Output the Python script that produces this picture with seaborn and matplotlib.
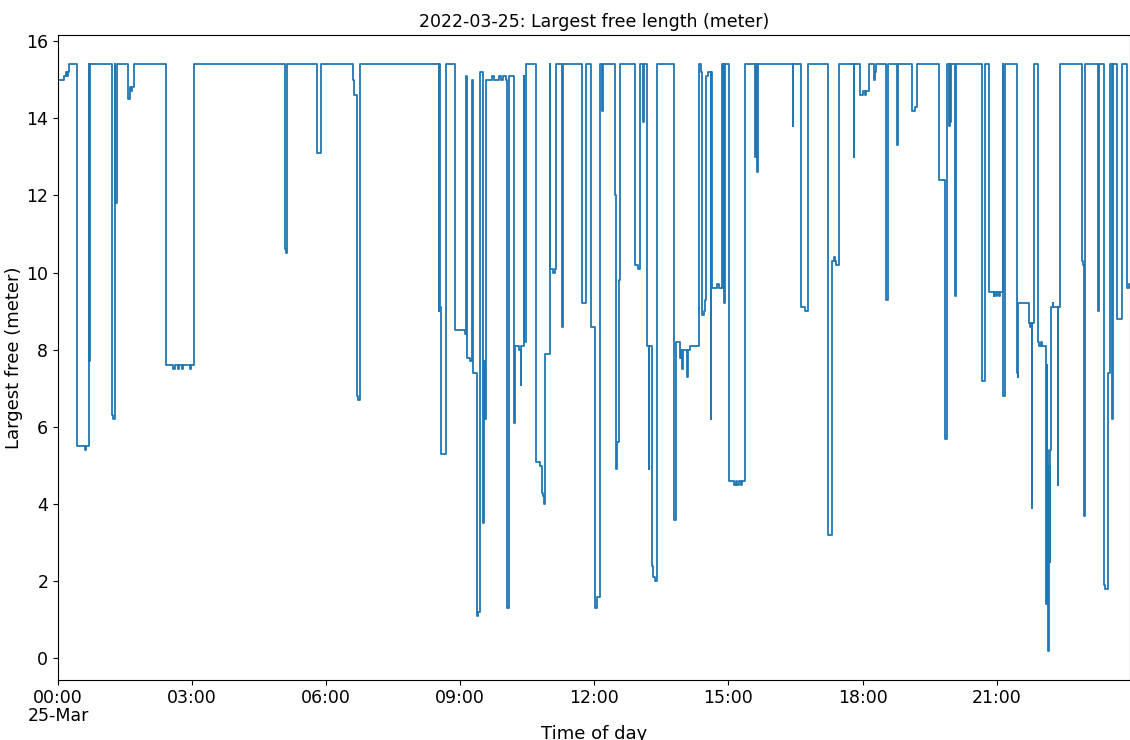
import matplotlib
matplotlib.use("Agg")
import matplotlib.pyplot as plt
import matplotlib.dates as mdates
import seaborn as sns
import pandas as pd
import numpy as np

# change points: minute of day -> largest free length (m)
night_min = [0, 8, 11, 12, 13, 15, 26, 36, 37, 41, 42, 43, 72, 74, 76, 77, 79,
             94, 96, 98, 100, 102, 145, 155, 157, 161, 162, 167, 168, 177, 179,
             182, 305, 306, 307, 347, 353]
night_val = [15.0, 15.1, 15.2, 15.1, 15.2, 15.4, 5.5, 5.4, 5.5, 15.4, 7.7, 15.4,
             6.3, 6.2, 15.4, 11.8, 15.4, 14.5, 14.8, 14.7, 14.8, 15.4, 7.6, 7.5,
             7.6, 7.5, 7.6, 7.5, 7.6, 7.5, 7.6, 15.4, 10.6, 10.5, 15.4, 13.1, 15.4]

morning_min = [396, 398, 401, 403, 406, 511, 512, 513, 514, 521, 533, 546, 548,
               549, 553, 556, 557, 562, 564, 567, 570, 571, 572, 573, 574, 583,
               585, 592, 594, 598, 601, 603, 605, 612, 614, 619, 621, 622, 625,
               626, 628, 642, 647, 650, 651, 653, 654, 660, 661, 665, 667, 668,
               677, 678, 704, 709, 716, 721, 723, 728, 730, 731]
morning_val = [15.0, 14.6, 6.8, 6.7, 15.4, 9.0, 15.4, 9.1, 5.3, 15.4, 8.5, 8.4,
               15.1, 7.8, 7.7, 15.0, 7.4, 1.1, 1.2, 15.2, 7.7, 3.5, 7.7, 6.2,
               15.0, 15.1, 15.0, 15.1, 15.0, 15.1, 15.0, 1.3, 15.1, 6.1, 8.1,
               8.0, 7.1, 8.1, 15.1, 8.2, 15.4, 5.1, 5.0, 4.3, 4.2, 4.0, 7.9,
               15.4, 10.1, 10.0, 10.1, 15.4, 8.6, 15.4, 9.2, 15.4, 8.6, 1.3, 1.6,
               15.4, 14.2, 15.4]

afternoon_min = [748, 749, 751, 753, 755, 775, 778, 781, 785, 786, 791, 793, 794,
                 797, 799, 802, 804, 827, 829, 835, 836, 838, 839, 845, 846, 849,
                 861, 863, 865, 867, 868, 870, 872, 876, 877, 878, 885, 887, 891,
                 892, 893, 894, 895, 901, 908, 910, 912, 914, 917, 918, 922, 936,
                 937, 938, 939, 986, 987, 998, 1003, 1007, 1033, 1039, 1041, 1043,
                 1045, 1048, 1068, 1069]
afternoon_val = [12.0, 4.9, 5.6, 9.8, 15.4, 10.2, 10.1, 15.4, 13.9, 15.4, 8.1,
                 4.9, 8.1, 2.4, 2.1, 2.0, 15.4, 3.6, 8.2, 7.8, 8.0, 7.5, 8.0, 7.3,
                 8.0, 8.1, 15.4, 15.2, 8.9, 9.0, 9.3, 15.1, 15.2, 6.2, 15.2, 9.6,
                 9.7, 9.6, 15.4, 9.6, 15.4, 9.2, 15.4, 4.6, 4.5, 4.6, 4.5, 4.6,
                 4.5, 4.6, 15.4, 13.0, 15.4, 12.6, 15.4, 13.8, 15.4, 9.1, 9.0,
                 15.4, 3.2, 10.3, 10.4, 10.3, 10.2, 15.4, 13.0, 15.4]

evening_min = [1077, 1080, 1083, 1085, 1088, 1095, 1096, 1097, 1098, 1112, 1114,
               1126, 1127, 1147, 1150, 1153, 1182, 1191, 1193, 1196, 1197, 1198,
               1199, 1204, 1205, 1241, 1245, 1250, 1256, 1257, 1259, 1260, 1263,
               1264, 1268, 1269, 1271, 1287, 1288, 1289, 1303, 1305, 1306, 1307,
               1308, 1310, 1316, 1317, 1320, 1321, 1326, 1327, 1328, 1329, 1330,
               1331, 1332, 1333, 1335, 1336, 1342, 1343, 1345, 1374, 1376, 1377,
               1378, 1396, 1397, 1404, 1406, 1409, 1412, 1415, 1416, 1422, 1428,
               1435, 1437, 1439]
evening_val = [14.6, 14.7, 14.6, 14.7, 15.4, 15.1, 15.0, 15.2, 15.4, 9.3, 15.4,
               13.3, 15.4, 14.2, 14.3, 15.4, 12.4, 5.7, 15.4, 13.8, 15.4, 13.9,
               15.4, 9.4, 15.4, 7.2, 15.4, 9.5, 9.4, 9.5, 9.4, 9.5, 9.4, 9.5,
               15.4, 6.8, 15.4, 7.4, 7.3, 9.2, 8.7, 8.6, 8.7, 3.9, 8.7, 15.4,
               8.2, 8.1, 8.2, 8.1, 1.4, 7.6, 5.4, 0.2, 5.0, 2.5, 5.4, 9.1, 9.2,
               9.1, 4.5, 9.1, 15.4, 10.3, 10.2, 3.7, 15.4, 9.0, 15.4, 1.9, 1.8,
               7.4, 15.4, 6.2, 15.4, 8.8, 15.4, 9.6, 9.7, 9.7]

day = pd.Timestamp("2022-03-25")
minutes = night_min + morning_min + afternoon_min + evening_min
values = night_val + morning_val + afternoon_val + evening_val
df = pd.DataFrame({
    "time": day + pd.to_timedelta(minutes, unit="min"),
    "free": values,
})

fig = plt.figure(figsize=(11.3, 7.4), dpi=100)
ax = fig.add_axes([58 / 1130, 60 / 740, 1072 / 1130, 645 / 740])

sns.lineplot(data=df, x="time", y="free", ax=ax, estimator=None, errorbar=None,
             drawstyle="steps-post", color="#1f77b4", linewidth=1.3)

ax.set_xlim(df["time"].iloc[0], df["time"].iloc[-1])
ax.set_ylim(-0.56, 16.16)
ax.set_yticks(np.arange(0, 17, 2))

ax.xaxis.set_major_locator(mdates.HourLocator(byhour=range(0, 24, 3)))


def fmt_time(x, pos):
    t = mdates.num2date(x)
    if t.hour == 0 and t.minute == 0:
        return t.strftime("%H:%M") + "\n25-Mar"
    return t.strftime("%H:%M")


ax.xaxis.set_major_formatter(plt.FuncFormatter(fmt_time))
ax.tick_params(labelsize=12.5)
ax.tick_params(axis="x", pad=3)
for lab in ax.get_xticklabels():
    lab.set_linespacing(1.0)

ax.set_title("2022-03-25: Largest free length (meter)", fontsize=12.5)
ax.set_xlabel("Time of day", fontsize=13, labelpad=0)
ax.set_ylabel("Largest free (meter)", fontsize=13, labelpad=2)

fig.canvas.draw()
for lab in ax.get_xticklabels():
    lab.set_linespacing(1.0)

fig.savefig("out.png", dpi=100)
